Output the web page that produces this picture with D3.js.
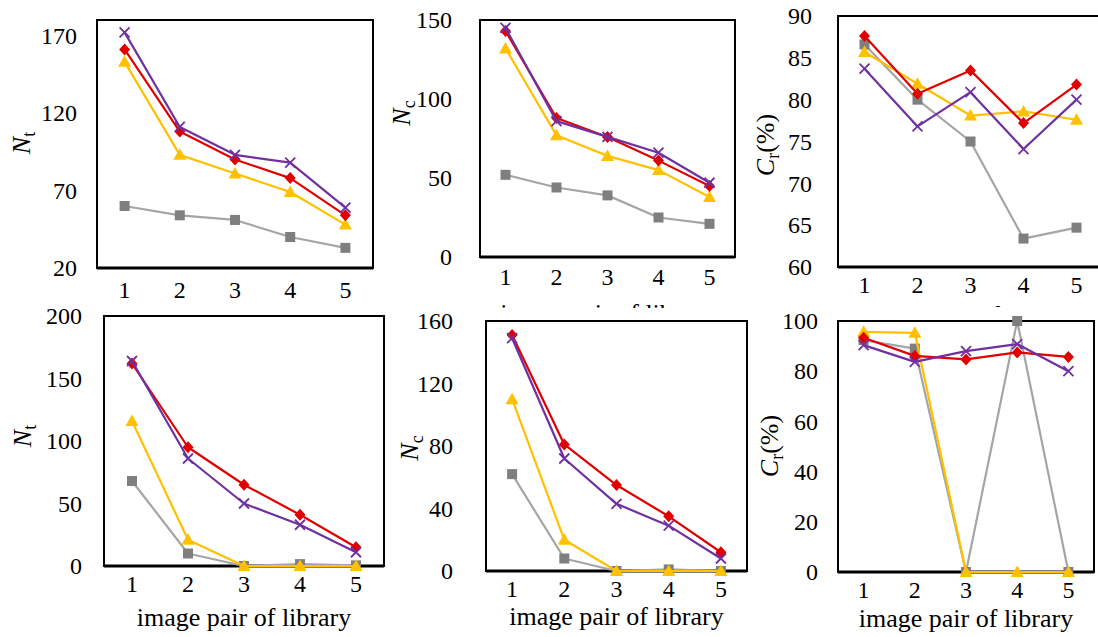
<!DOCTYPE html>
<html>
<head>
<meta charset="utf-8">
<script src="https://cdn.jsdelivr.net/npm/d3@7"></script>
<style>
  html, body { margin: 0; padding: 0; background: #fff; }
  svg { display: block; }
</style>
</head>
<body>
<svg id="chart" width="1098" height="637"></svg>
<script>
// ---------- data ----------
const categories = [1, 2, 3, 4, 5];
const xTitle = "image pair of library";

// top row
const topNtGray   = [60, 54, 51, 40, 33];
const topNtYellow = [153, 93, 81, 69, 48];
const topNtRed    = [161, 108, 90, 78, 54];
const topNtPurple = [172, 111, 93, 88, 59];

const topNcGray   = [52, 44, 39, 25, 21];
const topNcYellow = [132, 77, 64, 55, 38];
const topNcRed    = [143, 88, 76, 61, 45];
const topNcPurple = [145, 86, 76, 66, 47];

const topCrGray   = [86.6, 80, 75, 63.4, 64.7];
const topCrYellow = [85.7, 81.9, 78.1, 78.6, 77.6];
const topCrRed    = [87.6, 80.7, 83.5, 77.2, 81.8];
const topCrPurple = [83.7, 76.8, 80.9, 74.1, 80];

// bottom row
const botNtGray   = [68, 10, 0, 1.5, 0.5];
const botNtYellow = [116, 21, 0, 0, 0];
const botNtRed    = [162, 95, 65, 41, 15];
const botNtPurple = [164, 86, 50, 33, 11];

const botNcGray   = [62, 8, 0, 1, 0];
const botNcYellow = [110, 20, 0, 0, 0];
const botNcRed    = [151, 81, 55, 35, 12];
const botNcPurple = [149, 72, 43, 29, 8];

const botCrGray   = [92.4, 89, 0, 100, 0];
const botCrYellow = [95.7, 95.3, 0, 0, 0];
const botCrRed    = [93.3, 86.1, 84.7, 87.5, 85.7];
const botCrPurple = [90.4, 83.7, 88, 90.8, 80];

// tick labels
const topNtTicks = [20, 70, 120, 170];
const topNcTicks = [0, 50, 100, 150];
const topCrTicks = [60, 65, 70, 75, 80, 85, 90];
const botNtTicks = [0, 50, 100, 150, 200];
const botNcTicks = [0, 40, 80, 120, 160];
const botCrTicks = [0, 20, 40, 60, 80, 100];

// ---------- styles ----------
const FONT = '"Liberation Serif"';
const styles = {
  gray:   { line: "#A5A5A5", fill: "#7F7F7F", shape: "square" },
  yellow: { line: "#FFC000", fill: "#FFC000", shape: "triangle" },
  red:    { line: "#E00000", fill: "#E00000", shape: "diamond" },
  purple: { line: "#7030A0", fill: "#7030A0", shape: "cross" }
};

const panels = [
  { box: [97, 20, 373, 268], domain: [20, 180], ticks: topNtTicks, yPad: 20, xPad: 13,
    series: { gray: topNtGray, yellow: topNtYellow, red: topNtRed, purple: topNtPurple },
    label: ["N", "t", ""], labelPos: [30, 143], title: { y: 334, clip: 300 } },
  { box: [480, 20, 735, 257], domain: [0, 150], ticks: topNcTicks, yPad: 28, xPad: 11,
    series: { gray: topNcGray, yellow: topNcYellow, red: topNcRed, purple: topNcPurple },
    label: ["N", "c", ""], labelPos: [410, 113], title: { y: 322, clip: 308 } },
  { box: [838, 16, 1103, 267], domain: [60, 90], ticks: topCrTicks, yPad: 26, xPad: 9,
    series: { gray: topCrGray, yellow: topCrYellow, red: topCrRed, purple: topCrPurple },
    label: ["C", "r", "(%)"], labelPos: [774, 145], title: { y: 324, clip: 307 } },
  { box: [104, 316, 384, 566], domain: [0, 200], ticks: botNtTicks, yPad: 22, xPad: 9,
    series: { gray: botNtGray, yellow: botNtYellow, red: botNtRed, purple: botNtPurple },
    label: ["N", "t", ""], labelPos: [31, 436], title: { y: 626 } },
  { box: [486, 321, 747, 571], domain: [0, 160], ticks: botNcTicks, yPad: 33, xPad: 9,
    series: { gray: botNcGray, yellow: botNcYellow, red: botNcRed, purple: botNcPurple },
    label: ["N", "c", ""], labelPos: [418, 448], title: { y: 625 } },
  { box: [838, 321, 1094, 572], domain: [0, 100], ticks: botCrTicks, yPad: 20, xPad: 9,
    series: { gray: botCrGray, yellow: botCrYellow, red: botCrRed, purple: botCrPurple },
    label: ["C", "r", "(%)"], labelPos: [778, 446], title: { y: 627 } }
];

const svg = d3.select("#chart");
const defs = svg.append("defs");

function drawMarker(g, shape, cx, cy, st) {
  if (shape === "square") {
    g.append("rect").attr("x", cx - 5).attr("y", cy - 5).attr("width", 10).attr("height", 10)
      .attr("fill", st.fill);
  } else if (shape === "diamond") {
    g.append("path").attr("d", `M${cx},${cy - 6}L${cx + 5.5},${cy}L${cx},${cy + 6}L${cx - 5.5},${cy}Z`)
      .attr("fill", st.fill);
  } else if (shape === "triangle") {
    g.append("path").attr("d", `M${cx},${cy - 6.5}L${cx + 6.5},${cy + 5}L${cx - 6.5},${cy + 5}Z`)
      .attr("fill", st.fill);
  } else {
    g.append("path").attr("d", `M${cx - 5},${cy - 5}L${cx + 5},${cy + 5}M${cx + 5},${cy - 5}L${cx - 5},${cy + 5}`)
      .attr("stroke", st.fill).attr("stroke-width", 1.8).attr("fill", "none");
  }
}

panels.forEach((p, i) => {
  const [x0, y0, x1, y1] = p.box;
  const g = svg.append("g");

  const x = d3.scaleBand().domain(categories).range([x0, x1]);
  const y = d3.scaleLinear().domain(p.domain).range([y1, y0]);
  const cx = c => x(c) + x.bandwidth() / 2;

  // x-axis title (top row partly hidden under bottom row, as in the source)
  const t = g.append("text").attr("x", (x0 + x1) / 2 + (i === 2 ? -2 : 0)).attr("y", p.title.y)
    .attr("text-anchor", "middle").attr("font-size", 26).style("font-family", FONT).attr("fill", "#000")
    .text(xTitle);
  if (p.title.clip !== undefined) {
    const id = "clip" + i;
    defs.append("clipPath").attr("id", id).append("rect")
      .attr("x", x0 - 60).attr("y", 0).attr("width", x1 - x0 + 120).attr("height", p.title.clip);
    t.attr("clip-path", `url(#${id})`);
  }

  // y axis labels
  const yAxis = d3.axisLeft(y).tickValues(p.ticks).tickSize(0).tickPadding(p.yPad).tickFormat(d3.format("d"));
  const ya = g.append("g").attr("transform", `translate(${x0},0)`).call(yAxis);
  ya.attr("font-family", null);
  ya.select(".domain").remove();
  ya.selectAll("text").attr("font-size", 24).style("font-family", FONT).attr("fill", "#000");

  // x axis labels
  const xAxis = d3.axisBottom(x).tickSize(0).tickPadding(p.xPad);
  const xa = g.append("g").attr("transform", `translate(0,${y1})`).call(xAxis);
  xa.attr("font-family", null);
  xa.select(".domain").remove();
  xa.selectAll("text").attr("font-size", 24).style("font-family", FONT).attr("fill", "#000");

  // plot box
  g.append("rect").attr("x", x0).attr("y", y0).attr("width", x1 - x0).attr("height", y1 - y0)
    .attr("fill", "none").attr("stroke", "#000").attr("stroke-width", 2);
  g.append("line").attr("x1", x0).attr("x2", x1).attr("y1", y1).attr("y2", y1)
    .attr("stroke", "#000").attr("stroke-width", 3);

  // series
  const line = d3.line().x((d, k) => cx(categories[k])).y(d => y(d));
  ["gray", "yellow", "red", "purple"].forEach(key => {
    const vals = p.series[key];
    const st = styles[key];
    g.append("path").datum(vals).attr("d", line).attr("fill", "none")
      .attr("stroke", st.line).attr("stroke-width", 2.2).attr("stroke-linejoin", "round");
    const mg = g.append("g");
    vals.forEach((v, k) => drawMarker(mg, st.shape, cx(categories[k]), y(v), st));
  });

  // y title (rotated)
  const [lx, ly] = p.labelPos;
  const yl = g.append("text").attr("transform", `translate(${lx},${ly}) rotate(-90)`)
    .attr("text-anchor", "middle").attr("font-size", 26).style("font-family", FONT).attr("fill", "#000");
  yl.append("tspan").attr("font-style", "italic").text(p.label[0]);
  yl.append("tspan").attr("font-size", 18).attr("dy", 5).text(p.label[1]);
  if (p.label[2]) yl.append("tspan").attr("dy", -5).text(p.label[2]);
});
</script>
</body>
</html>
